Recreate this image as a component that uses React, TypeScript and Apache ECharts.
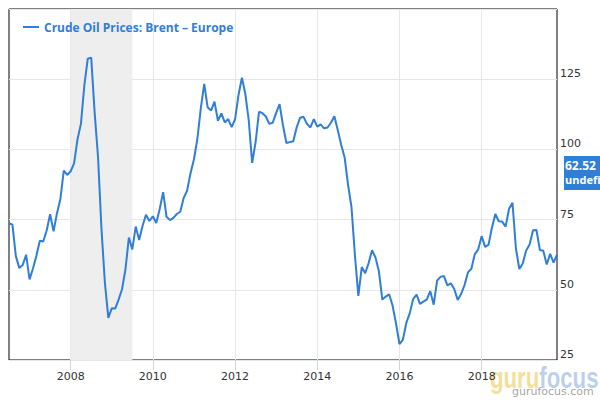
import React, { useEffect, useRef } from "react";
import * as echarts from "echarts";

// Monthly Brent crude prices (USD/bbl)
const brent2006 = [73.7, 73.2, 62.0, 57.8, 58.8, 62.5]; // Jul–Dec
const brent2007 = [53.7, 57.6, 62.1, 67.5, 67.2, 71.1, 76.9, 70.8, 77.2, 82.3, 92.4, 90.9];
const brent2008 = [92.2, 95.0, 103.6, 109.1, 122.8, 132.3, 132.7, 113.2, 97.2, 71.6, 52.5, 40.0];
const brent2009 = [43.4, 43.3, 46.5, 50.2, 57.3, 68.6, 64.4, 72.5, 67.7, 72.8, 76.7, 74.5];
const brent2010 = [76.2, 73.8, 78.8, 84.8, 76.0, 74.8, 75.6, 77.0, 77.8, 82.7, 85.3, 91.5];
const brent2011 = [96.5, 103.7, 114.6, 123.3, 115.0, 113.8, 117.0, 110.2, 112.8, 109.6, 110.8, 107.9];
const brent2012 = [110.7, 119.3, 125.5, 119.8, 110.3, 95.2, 102.6, 113.4, 112.9, 111.7, 109.1, 109.5];
const brent2013 = [113.0, 116.1, 108.5, 102.3, 102.6, 102.9, 107.9, 111.3, 111.6, 109.1, 107.8, 110.8];
const brent2014 = [108.1, 108.9, 107.5, 107.8, 109.5, 111.8, 106.8, 101.6, 97.1, 87.4, 79.4, 62.3];
const brent2015 = [47.8, 58.1, 55.9, 59.5, 64.1, 61.5, 56.6, 46.5, 47.6, 48.4, 44.3, 38.0];
const brent2016 = [30.7, 32.2, 38.2, 41.6, 46.7, 48.3, 45.0, 45.8, 46.6, 49.5, 44.7, 53.3];
const brent2017 = [54.6, 54.9, 51.6, 52.3, 50.3, 46.4, 48.5, 51.7, 56.2, 57.5, 62.7, 64.4];
const brent2018 = [69.1, 65.3, 66.0, 72.1, 77.0, 74.4, 74.3, 72.5, 78.9, 81.0, 64.8, 57.4];
const brent2019 = [59.4, 64.0, 66.1, 71.2, 71.3, 64.2, 63.9, 59.0, 62.8, 59.7, 62.52]; // Jan–Nov

const yearSeries: [number, number, number[]][] = [
  [2006, 7, brent2006],
  [2007, 1, brent2007],
  [2008, 1, brent2008],
  [2009, 1, brent2009],
  [2010, 1, brent2010],
  [2011, 1, brent2011],
  [2012, 1, brent2012],
  [2013, 1, brent2013],
  [2014, 1, brent2014],
  [2015, 1, brent2015],
  [2016, 1, brent2016],
  [2017, 1, brent2017],
  [2018, 1, brent2018],
  [2019, 1, brent2019],
];

const xTickYears = [2008, 2010, 2012, 2014, 2016, 2018];
const recession = [2008, 2009.5];
const seriesName = "Crude Oil Prices: Brent – Europe";
const lastLabel = "62.52";

export default function App() {
  const ref = useRef<HTMLDivElement>(null);
  useEffect(() => {
    document.body.style.margin = "0";
    if (!ref.current) return;
    const chart = echarts.init(ref.current, undefined, { renderer: "svg" });
    const data: [number, number][] = [];
    yearSeries.forEach(([year, startMonth, vals]) => {
      vals.forEach((v, i) => {
        data.push([year + (startMonth - 1 + i) / 12, v]);
      });
    });
    const blue = "#2f7ed8";
    chart.setOption({
      animation: false,
      grid: {
        left: 9,
        right: 43,
        top: 9,
        bottom: 40,
        show: true,
        borderColor: "#000",
        borderWidth: 1,
        backgroundColor: "transparent",
      },
      legend: {
        left: 23,
        top: 21,
        padding: 0,
        icon: "rect",
        itemWidth: 16,
        itemHeight: 2,
        itemGap: 10,
        textStyle: {
          color: blue,
          fontWeight: "bold",
          fontSize: 12,
          fontFamily: "Open Sans",
        },
        data: [seriesName],
      },
      xAxis: {
        type: "value",
        min: 2006.5,
        max: 2019 + 10 / 12,
        axisLine: { show: false },
        axisTick: {
          show: true,
          customValues: xTickYears,
          length: 10,
          lineStyle: { color: "#ccd6eb" },
        },
        axisLabel: {
          customValues: xTickYears,
          formatter: (v: number) => String(Math.round(v)),
          color: "#333",
          fontSize: 11,
          fontFamily: "DejaVu Sans",
          margin: 11,
        },
        splitLine: { show: true, lineStyle: { color: "#e6e6e6" } },
      },
      yAxis: {
        type: "value",
        position: "right",
        min: 25,
        max: 150,
        interval: 25,
        axisLine: { show: false },
        axisTick: { show: false },
        axisLabel: {
          color: "#333",
          fontSize: 11,
          fontFamily: "DejaVu Sans",
          margin: 3,
          verticalAlign: "bottom",
          showMaxLabel: false,
        },
        splitLine: { show: true, lineStyle: { color: "#e6e6e6" } },
      },
      series: [
        {
          name: seriesName,
          type: "line",
          data,
          symbol: "none",
          color: blue,
          lineStyle: { color: blue, width: 2 },
          markArea: {
            silent: true,
            itemStyle: { color: "#eeeeee" },
            label: { show: false },
            data: [[{ xAxis: recession[0] }, { xAxis: recession[1] }]],
          },
          z: 3,
        },
      ],
      graphic: [
        {
          type: "group",
          left: 564,
          top: 156,
          children: [
            { type: "rect", shape: { x: 0, y: 0, width: 40, height: 34 }, style: { fill: blue } },
            {
              type: "text",
              x: 1,
              y: 3,
              style: {
                text: lastLabel,
                fill: "#fff",
                font: "bold 12px 'Open Sans'",
              },
            },
            {
              type: "text",
              x: 1,
              y: 18,
              style: {
                text: "undefined",
                fill: "#fff",
                font: "bold 11px 'Open Sans'",
                width: 40,
                overflow: "truncate",
                ellipsis: "",
              },
            },
          ],
        },
        {
          type: "text",
          x: 490,
          y: 363,
          scaleX: 0.74,
          style: {
            text: "{a|guru}{b|focus}",
            rich: {
              a: {
                fill: "rgba(236, 196, 60, 0.55)",
                font: "bold 30px 'Liberation Sans'",
              },
              b: {
                fill: "rgba(100, 150, 210, 0.45)",
                font: "bold 30px 'Liberation Sans'",
              },
            },
          },
        },
        {
          type: "text",
          left: 512,
          top: 386,
          style: {
            text: "gurufocus.com",
            fill: "rgba(120, 120, 120, 0.7)",
            font: "11px 'DejaVu Sans'",
          },
        },
      ],
    });
    return () => chart.dispose();
  }, []);
  return <div ref={ref} style={{ width: 600, height: 400 }} />;
}
